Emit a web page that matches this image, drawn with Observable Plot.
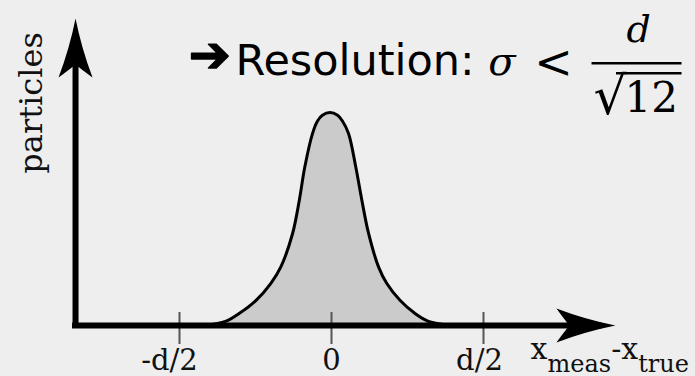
<!DOCTYPE html>
<html>
<head>
<meta charset="utf-8">
<script src="https://cdn.jsdelivr.net/npm/d3@7"></script>
<script src="https://cdn.jsdelivr.net/npm/@observablehq/plot@0.6"></script>
<style>
  html, body { margin: 0; padding: 0; background: #eeeeee; }
  #chart { width: 695px; height: 376px; }
</style>
</head>
<body>
<div id="chart"></div>
<script>
// Measured residual x_meas - x_true (in units of the strip pitch d)
const residual = [-0.414, -0.349, -0.304, -0.249, -0.200, -0.167, -0.128, -0.106, -0.088, -0.0625, -0.046, -0.030, -0.005,
                  0.020, 0.036, 0.056, 0.080, 0.100, 0.122, 0.155, 0.182, 0.226, 0.275, 0.319, 0.391];
// Number of particles (relative, peak = 100)
const particles = [0, 1.9, 5.6, 11.7, 19.7, 27.4, 43.2, 58.7, 74.3, 90.1, 96.0, 98.7, 100,
                   98.7, 96.0, 90.1, 74.3, 58.7, 43.2, 27.4, 19.7, 11.7, 5.6, 1.9, 0];
const tickValues = [-0.5, 0, 0.5];
const tickLabels = ["-d/2", "0", "d/2"];
// Axis extent in data units: x axis from origin to its arrow tip, y axis up to its arrow tip
const xAxisStart = -0.842, xAxisTip = 0.934;
const yAxisTip = 144.1;
// Axis title pieces: [text, role]
const xLabelParts = [["x", "base"], ["meas", "sub"], ["-", "base"], ["x", "base"], ["true", "sub"]];
const yLabel = "particles";

const curve = residual.map((x, i) => ({x, y: particles[i]}));
const xLabelRaw = xLabelParts.map(d => d[0]).join("");

// Filled arrowhead pointing right, tip at the origin, concave sides and notched back
const arrowHead = {
  draw(ctx) {
    ctx.moveTo(0, 0);
    ctx.quadraticCurveTo(-30, -6, -59, -17);
    ctx.quadraticCurveTo(-51, -6, -46, 0);
    ctx.quadraticCurveTo(-51, 6, -59, 17);
    ctx.quadraticCurveTo(-30, 6, 0, 0);
    ctx.closePath();
  }
};

const serif = "DejaVu Serif";
const sans = "DejaVu Sans";

const svg = Plot.plot({
  width: 695,
  height: 376,
  margin: 0,
  style: {background: "#eeeeee", overflow: "visible"},
  x: {domain: [-0.5, 0.5], range: [179, 483], axis: null},
  y: {domain: [0, 100], range: [325, 112], axis: null},
  marks: [
    Plot.areaY(curve, {x: "x", y: "y", curve: "catmull-rom", fill: "#cbcbcb"}),
    Plot.line(curve, {x: "x", y: "y", curve: "catmull-rom", stroke: "black", strokeWidth: 3}),
    Plot.ruleX(tickValues, {y1: -8.9, y2: 6.1, stroke: "#555", strokeWidth: 2}),
    Plot.ruleY([0], {x1: xAxisStart, x2: 0.88, stroke: "black", strokeWidth: 6, strokeLinecap: "square"}),
    Plot.ruleX([xAxisStart], {y1: 0, y2: 133.8, stroke: "black", strokeWidth: 6, strokeLinecap: "square"}),
    Plot.dot([{x: xAxisTip, y: 0, a: 0}, {x: xAxisStart, y: yAxisTip, a: -90}],
             {x: "x", y: "y", rotate: "a", symbol: arrowHead, fill: "black", stroke: "none"}),
    // tick labels
    ...tickLabels.map((t, i) => Plot.text([t], {
      x: tickValues[i], y: -20.7, text: d => d, textAnchor: "middle", lineAnchor: "bottom",
      dx: [-10, 0, -4][i], fontFamily: serif, fontSize: 29, fill: "#111"
    })),
    // axis titles
    Plot.text([xLabelRaw], {x: 0.655, y: -15.5, text: d => d, textAnchor: "start", lineAnchor: "bottom",
      fontFamily: serif, fontSize: 30, fill: "#111"}),
    Plot.text([yLabel], {x: -0.952, y: 104.5, text: d => d, rotate: -90, textAnchor: "middle", lineAnchor: "bottom",
      fontFamily: serif, fontSize: 32, fill: "#111"}),
    // resolution annotation
    Plot.text(["\u2794"], {x: -0.401, y: 126.3, text: d => d, textAnchor: "middle", lineAnchor: "middle",
      fontFamily: sans, fontSize: 50, fill: "black", stroke: "black", strokeWidth: 1.5}),
    Plot.text(["Resolution:"], {x: -0.316, y: 117.4, text: d => d, textAnchor: "start", lineAnchor: "bottom",
      fontFamily: sans, fontSize: 43, fill: "black"}),
    Plot.text(["\u03c3"], {x: 0.516, y: 117.4, text: d => d, textAnchor: "start", lineAnchor: "bottom",
      fontFamily: serif, fontStyle: "italic", fontSize: 40, fill: "black"}),
    Plot.text(["<"], {x: 0.730, y: 116.0, text: d => d, textAnchor: "middle", lineAnchor: "bottom",
      fontFamily: serif, fontSize: 46, fill: "black"}),
    Plot.text(["d"], {x: 1.010, y: 133.0, text: d => d, textAnchor: "middle", lineAnchor: "bottom",
      fontFamily: serif, fontStyle: "italic", fontSize: 38, fill: "black"}),
    Plot.ruleY([123.1], {x1: 0.857, x2: 1.153, stroke: "black", strokeWidth: 2.5}),
    Plot.text(["\u221a"], {x: 0.862, y: 99.1, text: d => d, textAnchor: "start", lineAnchor: "bottom",
      fontFamily: serif, fontSize: 52, fill: "black"}),
    Plot.ruleY([118.4], {x1: 0.9375, x2: 1.153, stroke: "black", strokeWidth: 2.5}),
    Plot.text(["12"], {x: 1.052, y: 100.1, text: d => d, textAnchor: "middle", lineAnchor: "bottom",
      fontFamily: serif, fontSize: 42, fill: "black"})
  ]
});

// Typeset the x-axis title with subscripts
d3.select(svg).selectAll("text")
  .filter(function() { return this.textContent === xLabelRaw; })
  .each(function() {
    const t = d3.select(this).text(null);
    let sub = false;
    for (const [s, role] of xLabelParts) {
      const span = t.append("tspan").text(s);
      if (role === "sub") {
        span.attr("font-size", 24);
        if (!sub) span.attr("dy", 13);
        sub = true;
      } else if (sub) {
        span.attr("dy", -13);
        sub = false;
      }
    }
  });

document.getElementById("chart").appendChild(svg);
</script>
</body>
</html>
